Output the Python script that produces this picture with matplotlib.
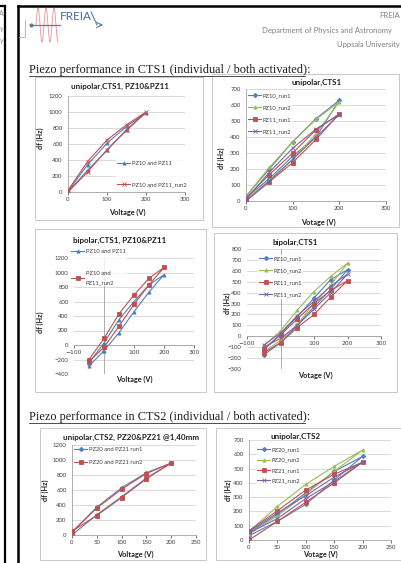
import numpy as np
import matplotlib
matplotlib.use("Agg")
import matplotlib.pyplot as plt
from matplotlib.patches import Rectangle

W, H = 401, 563
SANS = ["Lato", "DejaVu Sans"]
SERIF = ["Liberation Serif", "DejaVu Serif"]

BLUE = "#4F81BD"
RED = "#C0504D"
GREEN = "#9BBB59"
PURPLE = "#8064A2"

# ---- data (hysteresis loops: up then back down) ----
uni_v = [0, 50, 100, 150, 200, 150, 100, 50, 0]
bi_v = [-50, 0, 50, 100, 150, 200, 150, 100, 50, 0, -50]

c1_pz10_pz11 = [0, 270, 520, 780, 990, 820, 610, 340, 10]
c1_pz10_pz11_run2 = [0, 250, 530, 770, 1000, 840, 650, 380, 20]

c2_pz10_run1 = [20, 140, 280, 400, 630, 515, 370, 200, 30]
c2_pz10_run2 = [10, 130, 260, 420, 620, 510, 370, 210, 30]
c2_pz11_run1 = [0, 120, 240, 385, 545, 445, 300, 165, 20]
c2_pz11_run2 = [0, 125, 260, 400, 540, 450, 330, 180, 10]

c3_pz10_pz11 = [-290, -80, 170, 460, 730, 970, 830, 600, 350, 30, -250]
c3_pz10_pz11_run2 = [-230, -30, 260, 560, 830, 1070, 920, 690, 430, 90, -200]

c4_pz10_run1 = [-170, -60, 100, 270, 430, 610, 520, 350, 180, 20, -120]
c4_pz10_run2 = [-140, -40, 110, 300, 470, 670, 550, 410, 240, 50, -90]
c4_pz11_run1 = [-150, -60, 80, 200, 360, 510, 420, 300, 160, 10, -120]
c4_pz11_run2 = [-100, -20, 100, 250, 400, 570, 460, 320, 190, 30, -80]

c5_run1 = [0, 270, 510, 760, 960, 830, 630, 370, 40]
c5_run2 = [50, 260, 500, 750, 960, 820, 610, 360, 40]

c6_pz20_run1 = [30, 130, 250, 420, 585, 480, 330, 180, 50]
c6_pz20_run2 = [40, 170, 320, 480, 630, 515, 390, 235, 60]
c6_pz21_run1 = [0, 130, 265, 400, 545, 460, 350, 205, 65]
c6_pz21_run2 = [50, 150, 290, 410, 545, 440, 310, 190, 60]

fig = plt.figure(figsize=(W / 100, H / 100), dpi=100)
page = fig.add_axes([0, 0, 1, 1])
page.set_xlim(0, W)
page.set_ylim(H, 0)
page.axis("off")


def frac(x0, y0, x1, y1):
    return [x0 / W, 1 - y1 / H, (x1 - x0) / W, (y1 - y0) / H]


# ---- page furniture ----
page.plot([5, 5], [6, H], color="black", lw=1.6)
page.plot([0, 5], [6, 6], color="black", lw=1.6)
page.plot([17.5, 17.5], [6, H], color="black", lw=1.8)
page.plot([17.5, W], [6, 6], color="black", lw=1.8)
for yy, ch in [(13, "A"), (28, "y"), (40, "y")]:
    page.text(4, yy, ch, ha="right", va="center", fontsize=5, color="#909090", family=SANS)
page.plot([25, 25, 19], [20, 37, 37], color="#B0B0B0", lw=0.6)

# logo
xs = np.linspace(36, 58, 400)
page.plot(xs, 25 - 17 * np.sin(2 * np.pi * (xs - 36) / 8), color="#EC9090", lw=0.6)
page.plot([31, 60], [25, 25], color="#5A7AB0", lw=0.9)
page.plot([31], [25], "o", color="#5A7AB0", ms=2)
page.text(60, 16, "FREIA", fontsize=8.5, color="#4A6A9E", family=SANS, va="center",
          ha="left")
page.annotate("", xy=(106, 25), xytext=(97, 25),
              arrowprops=dict(arrowstyle="->", color="#5A7AB0", lw=0.8))
page.plot([91, 97], [12, 25], color="#5A7AB0", lw=0.8)

page.text(400, 16, "FREIA", fontsize=5.5, color="#808080", family=SANS, va="center", ha="right")
page.text(262, 30, "Department of Physics and Astronomy", fontsize=5.5, color="#808080",
          family=SANS, va="center")
page.text(337, 44, "Uppsala University", fontsize=5.5, color="#808080", family=SANS, va="center")

for yy, txt in [(70, "Piezo performance in CTS1 (individual / both activated):"),
                (417, "Piezo performance in CTS2 (individual / both activated):")]:
    page.text(29, yy, txt, fontsize=8.8, family=SERIF, color="#202020", va="center")
    page.plot([29, 305], [yy + 5.5, yy + 5.5], color="#303030", lw=0.6)

# chart boxes
for (x0, y0, x1, y1) in [(35, 77, 203, 220), (212, 74, 399, 227), (35, 229, 206, 392),
                         (214, 233, 397, 392), (40, 428, 206, 560), (216, 428, 401, 560)]:
    page.add_patch(Rectangle((x0, y0), x1 - x0, y1 - y0, fill=False, ec="#C8C8C8", lw=0.7))


def chart(rect, xlim, ylim, xticks, yticks, series, bipolar=False,
          title="", tpos=(0, 0), xlabel="", xlpos=(0, 0), ypos=(0, 0),
          leg_anchor=(0, 0), leg_spacing=0.6):
    ax = fig.add_axes(frac(*rect))
    ax.set_xlim(*xlim)
    ax.set_ylim(*ylim)
    ax.set_xticks(xticks)
    ax.set_yticks(yticks)
    ax.patch.set_alpha(0)
    for s in ["top", "right"]:
        ax.spines[s].set_visible(False)
    ax.yaxis.grid(True, color="#D4D4D4", lw=0.6)
    ax.set_axisbelow(True)
    ax.tick_params(labelsize=4.3, colors="#404040", length=2, width=0.5, pad=1.5)
    ax.tick_params(axis="y", length=0, pad=4)
    for lab in ax.get_xticklabels() + ax.get_yticklabels():
        lab.set_family(SANS)
    ax.spines["left"].set_visible(False)
    ax.spines["bottom"].set_color("#A0A0A0")
    ax.spines["bottom"].set_linewidth(0.6)
    if bipolar:
        ax.spines["bottom"].set_position(("data", 0))
        ax.axvline(0, color="#A0A0A0", lw=0.6, zorder=1)
    else:
        ax.spines["left"].set_visible(True)
        ax.spines["left"].set_color("#A0A0A0")
        ax.spines["left"].set_linewidth(0.6)
    for xv, yv, col, mk, lab in series:
        ax.plot(xv, yv, color=col, lw=0.8, marker=mk, ms=2.3, mew=0.6, label=lab, zorder=3)
    leg = ax.legend(loc="upper left", bbox_to_anchor=(leg_anchor[0] / W, 1 - leg_anchor[1] / H),
                    bbox_transform=fig.transFigure, frameon=True,
                    prop={"family": SANS, "size": 4.2}, handlelength=2.2, handletextpad=0.3,
                    labelspacing=leg_spacing, borderpad=0.2, borderaxespad=0)
    leg.get_frame().set_edgecolor("none")
    leg.get_frame().set_facecolor("white")
    for txt in leg.get_texts():
        txt.set_color("#404040")
        txt.set_linespacing(2.0)
    page.text(tpos[0], tpos[1], title, ha="center", va="center", fontsize=5.8,
              fontweight="bold", family=SANS, color="#202020")
    page.text(xlpos[0], xlpos[1], xlabel, ha="center", va="center", fontsize=5.3,
              fontweight="bold", family=SANS, color="#202020")
    page.text(ypos[0], ypos[1], "df (Hz)", ha="center", va="center", fontsize=5.2,
              fontweight="bold", family=SANS, color="#202020", rotation=90)
    return ax


chart((68, 96, 185, 192), (0, 300), (0, 1200), [0, 100, 200, 300], range(0, 1201, 200),
      [(uni_v, c1_pz10_pz11, BLUE, "^", "PZ10 and PZ11"),
       (uni_v, c1_pz10_pz11_run2, RED, "x", "PZ10 and PZ11_run2")],
      title="unipolar,CTS1, PZ10&PZ11", tpos=(120, 86), xlabel="Voltage (V)", xlpos=(127, 212),
      ypos=(40, 138), leg_anchor=(116, 160), leg_spacing=2.7)

chart((246, 89, 386, 201), (0, 300), (0, 700), [0, 100, 200, 300], range(0, 701, 100),
      [(uni_v, c2_pz10_run1, BLUE, "D", "PZ10_run1"),
       (uni_v, c2_pz10_run2, GREEN, "^", "PZ10_run2"),
       (uni_v, c2_pz11_run1, RED, "s", "PZ11_run1"),
       (uni_v, c2_pz11_run2, PURPLE, "x", "PZ11_run2")],
      title="unipolar,CTS1", tpos=(317, 82), xlabel="Votage (V)", xlpos=(318, 222),
      ypos=(221, 158), leg_anchor=(247, 92), leg_spacing=1.2)

chart((74, 258, 194, 374), (-100, 300), (-400, 1200), [-100, 0, 100, 200, 300],
      range(-400, 1201, 200),
      [(bi_v, c3_pz10_pz11, BLUE, "^", "PZ10 and PZ11"),
       (bi_v, c3_pz10_pz11_run2, RED, "s", "PZ10 and\nPZ11_run2")],
      bipolar=True, title="bipolar,CTS1, PZ10&PZ11", tpos=(120, 240), xlabel="Voltage (V)",
      xlpos=(134, 379), ypos=(40, 322), leg_anchor=(70, 248), leg_spacing=2.9)

chart((247, 249, 381, 369), (-100, 300), (-300, 800), [-100, 0, 100, 200, 300],
      range(-300, 801, 100),
      [(bi_v, c4_pz10_run1, BLUE, "D", "PZ10_run1"),
       (bi_v, c4_pz10_run2, GREEN, "^", "PZ10_run2"),
       (bi_v, c4_pz11_run1, RED, "s", "PZ11_run1"),
       (bi_v, c4_pz11_run2, PURPLE, "x", "PZ11_run2")],
      bipolar=True, title="bipolar,CTS1", tpos=(295, 242), xlabel="Votage (V)", xlpos=(315, 375),
      ypos=(227, 303), leg_anchor=(258, 255), leg_spacing=1.2)

chart((72, 445, 196, 535), (0, 250), (0, 1200), range(0, 251, 50), range(0, 1201, 200),
      [(uni_v, c5_run1, BLUE, "D", "PZ20 and PZ21 run1"),
       (uni_v, c5_run2, RED, "s", "PZ20 and PZ21 run2")],
      title="unipolar,CTS2, PZ20&PZ21 @1,40mm", tpos=(131, 437), xlabel="Voltage (V)",
      xlpos=(135, 554), ypos=(45, 490), leg_anchor=(73, 446), leg_spacing=1.3)

chart((249, 440, 391, 540), (0, 250), (0, 700), range(0, 251, 50), range(0, 701, 100),
      [(uni_v, c6_pz20_run1, BLUE, "D", "PZ20_run1"),
       (uni_v, c6_pz20_run2, GREEN, "^", "PZ20_run2"),
       (uni_v, c6_pz21_run1, RED, "s", "PZ21_run1"),
       (uni_v, c6_pz21_run2, PURPLE, "x", "PZ21_run2")],
      title="unipolar,CTS2", tpos=(296, 436), xlabel="Votage (V)", xlpos=(320, 554),
      ypos=(228, 490), leg_anchor=(256, 446), leg_spacing=0.9)

fig.savefig("out.png", dpi=100)
